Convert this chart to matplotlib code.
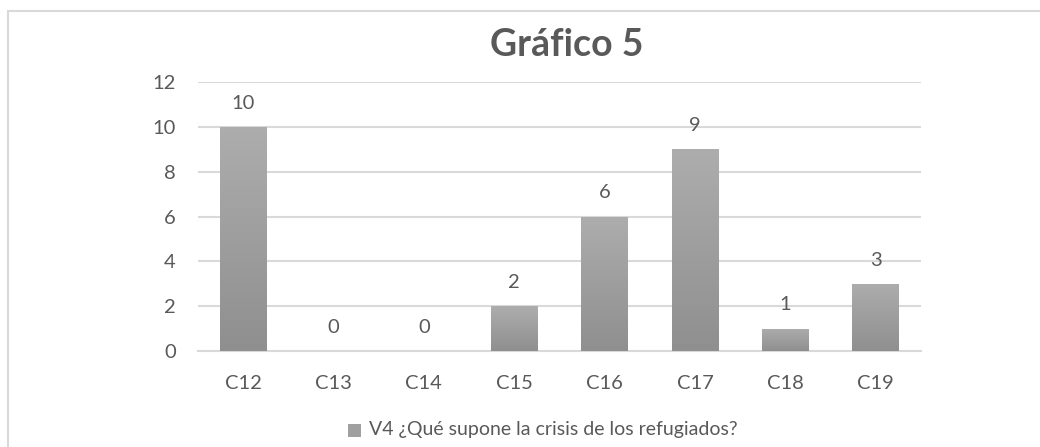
import numpy as np
import matplotlib
matplotlib.use("Agg")
import matplotlib.pyplot as plt
from matplotlib.patches import Rectangle

categories = ["C12", "C13", "C14", "C15", "C16", "C17", "C18", "C19"]
values = [10, 0, 0, 2, 6, 9, 1, 3]
series_name = "V4 ¿Qué supone la crisis de los refugiados?"
title = "Gráfico 5"

plt.rcParams["font.family"] = ["Lato", "DejaVu Sans"]
text_color = "#595959"
grid_color = "#d9d9d9"

W, H = 1040, 447
fig = plt.figure(figsize=(W / 100, H / 100), dpi=100)
ax = fig.add_axes([198 / W, 1 - 351 / H, (921 - 198) / W, (351 - 82) / H])

x = np.arange(len(categories))
bars = ax.bar(x, values, width=0.52, color="#a0a0a0", zorder=3)

# vertical gradient like the Excel fill
grad = np.linspace(0, 1, 256).reshape(-1, 1)
cmap = matplotlib.colors.LinearSegmentedColormap.from_list("g", ["#8f8f8f", "#adadad"])
for b in bars:
    if b.get_height() <= 0:
        continue
    im = ax.imshow(grad, cmap=cmap, origin="lower", aspect="auto",
                   extent=[b.get_x(), b.get_x() + b.get_width(), 0, b.get_height()],
                   zorder=4)
    im.set_clip_path(b)

for xi, v in zip(x, values):
    ax.annotate(str(v), (xi, v), xytext=(0, 17), textcoords="offset points",
                ha="center", va="center", fontsize=14.5, color=text_color)

ax.set_xlim(-0.5, len(categories) - 0.5)
ax.set_ylim(0, 12)
ax.set_yticks(range(0, 13, 2))
ax.set_xticks(x)
ax.set_xticklabels(categories)
ax.tick_params(length=0, labelsize=14.5, labelcolor=text_color)
ax.tick_params(axis="y", pad=16)
ax.tick_params(axis="x", pad=17)
ax.grid(axis="y", color=grid_color, linewidth=1.5, zorder=0)
for s in ["top", "right", "left"]:
    ax.spines[s].set_visible(False)
ax.spines["bottom"].set_color(grid_color)
ax.spines["bottom"].set_linewidth(1.5)

fig.text(567 / W, 1 - 45 / H, title, ha="center", va="center",
         fontsize=27, fontweight="bold", color=text_color)

# legend
fig.patches.append(Rectangle((348 / W, 1 - 437 / H), 13 / W, 13 / H,
                             transform=fig.transFigure, facecolor="#a0a0a0",
                             edgecolor="none"))
fig.text(369 / W, 1 - 430 / H, series_name, ha="left", va="center",
         fontsize=14, color=text_color)

# chart border
fig.patches.append(Rectangle((8 / W, -0.1), 1.2, 1 - 11 / H + 0.1,
                             transform=fig.transFigure, facecolor="none",
                             edgecolor=grid_color, linewidth=1.5))

fig.savefig("out.png", dpi=100, facecolor="white")
